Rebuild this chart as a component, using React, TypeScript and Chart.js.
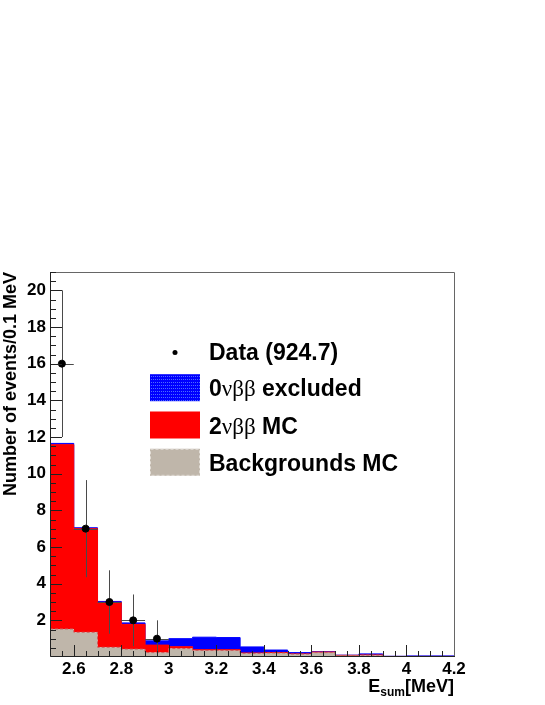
import React, { useEffect, useRef } from "react";
import { Chart, registerables } from "chart.js";

Chart.register(...registerables);

// ---- data ----
const binEdges = [2.5, 2.6, 2.7, 2.8, 2.9, 3.0, 3.1, 3.2, 3.3, 3.4, 3.5, 3.6, 3.7, 3.8, 3.9, 4.0, 4.1, 4.2];
const backgroundMC = [1.53, 1.35, 0.53, 0.43, 0.24, 0.46, 0.36, 0.36, 0.2, 0.22, 0.16, 0.24, 0.08, 0.1, 0.02, 0.02, 0.02];
const twoNuMC = [10.05, 5.65, 2.45, 1.35, 0.41, 0.1, 0.04, 0.04, 0.02, 0.02, 0.01, 0.03, 0.01, 0.01, 0.01, 0.01, 0.01];
const zeroNuExcluded = [0.07, 0.05, 0.05, 0.08, 0.23, 0.44, 0.68, 0.66, 0.33, 0.14, 0.07, 0.02, 0.01, 0.06, 0.01, 0.03, 0.03];

const dataCenters = [2.55, 2.65, 2.75, 2.85, 2.95];
const dataCounts = [16, 7, 3, 2, 1];
const dataErrors = [4, 2.65, 1.73, 1.41, 1];
const dataHalfWidths = [0.05, 0.05, 0.05, 0.05, 0.05];

const xTickLabels = ["2.6", "2.8", "3", "3.2", "3.4", "3.6", "3.8", "4", "4.2"];
const yTickLabels = ["2", "4", "6", "8", "10", "12", "14", "16", "18", "20"];

const legendLabels = ["Data (924.7)", "0νββ excluded", "2νββ MC", "Backgrounds MC"];

const SANS = "'Liberation Sans', Arial, Helvetica, sans-serif";
const SERIF = "'Liberation Serif', 'DejaVu Serif', serif";

const COL_BLUE = "#0000ff";
const COL_RED = "#ff0000";
const COL_GRAY = "#bfb6aa";

type Seg = { text: string; font: string; dy?: number };

function drawSegs(ctx: CanvasRenderingContext2D, segs: Seg[], x: number, y: number, align: "left" | "right") {
  let total = 0;
  const widths = segs.map((s) => {
    ctx.font = s.font;
    const w = ctx.measureText(s.text).width;
    total += w;
    return w;
  });
  let cx = align === "left" ? x : x - total;
  ctx.textAlign = "left";
  ctx.textBaseline = "alphabetic";
  segs.forEach((s, i) => {
    ctx.font = s.font;
    ctx.fillText(s.text, cx, y + (s.dy || 0));
    cx += widths[i];
  });
}

function splitGreek(label: string, size: number): Seg[] {
  const segs: Seg[] = [];
  const re = /[νβ]+/g;
  let last = 0;
  let m: RegExpExecArray | null;
  while ((m = re.exec(label))) {
    if (m.index > last) segs.push({ text: label.slice(last, m.index), font: `bold ${size}px ${SANS}` });
    segs.push({ text: m[0], font: `${size}px ${SERIF}` });
    last = m.index + m[0].length;
  }
  if (last < label.length) segs.push({ text: label.slice(last), font: `bold ${size}px ${SANS}` });
  return segs;
}

const decorPlugin = {
  id: "decor",
  beforeDatasetDraw(chart: any, args: any) {
    if (args.index !== 0) return;
    const ctx: CanvasRenderingContext2D = chart.ctx;
    const xs = chart.scales.x;
    const ys = chart.scales.y;
    ctx.save();
    ctx.strokeStyle = "#4a4a4a";
    ctx.lineWidth = 1;
    dataCenters.forEach((c, i) => {
      const px = Math.round(xs.getPixelForValue(c)) + 0.5;
      const py = Math.round(ys.getPixelForValue(dataCounts[i])) + 0.5;
      const y1 = ys.getPixelForValue(dataCounts[i] + dataErrors[i]);
      const y2 = ys.getPixelForValue(dataCounts[i] - dataErrors[i]);
      const x1 = xs.getPixelForValue(c - dataHalfWidths[i]);
      const x2 = xs.getPixelForValue(c + dataHalfWidths[i]);
      ctx.beginPath();
      ctx.moveTo(px, y1);
      ctx.lineTo(px, y2);
      ctx.moveTo(x1, py);
      ctx.lineTo(x2, py);
      ctx.stroke();
    });
    ctx.restore();
  },
  afterDraw(chart: any) {
    const ctx: CanvasRenderingContext2D = chart.ctx;
    const xs = chart.scales.x;
    const ys = chart.scales.y;
    const a = chart.chartArea;
    ctx.save();
    // frame
    ctx.lineWidth = 1;
    ctx.strokeStyle = "#666";
    ctx.beginPath();
    ctx.moveTo(a.left + 0.5, a.top + 0.5);
    ctx.lineTo(a.right + 0.5, a.top + 0.5);
    ctx.lineTo(a.right + 0.5, a.bottom);
    ctx.stroke();
    ctx.strokeStyle = "#222";
    ctx.beginPath();
    ctx.moveTo(a.left + 0.5, a.top);
    ctx.lineTo(a.left + 0.5, a.bottom - 0.5);
    ctx.lineTo(a.right + 1, a.bottom - 0.5);
    ctx.stroke();

    // y ticks: minor every 0.5, major every 2
    ctx.strokeStyle = "#222";
    ctx.beginPath();
    for (let k = 1; k <= 42; k++) {
      const v = k * 0.5;
      if (v > ys.max) break;
      const py = Math.round(ys.getPixelForValue(v)) + 0.5;
      const len = k % 4 === 0 ? 12 : 6;
      ctx.moveTo(a.left, py);
      ctx.lineTo(a.left + len, py);
    }
    // x ticks: minor every 0.05, major every 0.2 (from 2.6)
    for (let k = 1; k < 34; k++) {
      const v = 2.5 + k * 0.05;
      const px = Math.round(xs.getPixelForValue(v)) + 0.5;
      const len = (k - 2) % 4 === 0 ? 12 : 6;
      ctx.moveTo(px, a.bottom);
      ctx.lineTo(px, a.bottom - len);
    }
    ctx.stroke();

    // legend
    ctx.fillStyle = "#000";
    const lx = 150, lw = 50, tx = 209;
    const rowCenters = [351.5, 387.7, 425, 462.3];
    // data marker
    ctx.beginPath();
    ctx.arc(lx + 25, rowCenters[0] + 1, 2.5, 0, Math.PI * 2);
    ctx.fill();
    // blue patterned box
    const pc = document.createElement("canvas");
    pc.width = 4;
    pc.height = 3;
    const pctx = pc.getContext("2d")!;
    pctx.fillStyle = COL_BLUE;
    pctx.fillRect(0, 0, 4, 3);
    pctx.fillStyle = "#4f6bff";
    pctx.fillRect(1, 1, 1, 1);
    pctx.fillRect(3, 1, 1, 1);
    const pat = ctx.createPattern(pc, "repeat");
    ctx.fillStyle = pat || COL_BLUE;
    ctx.fillRect(lx, rowCenters[1] - 13.5, lw, 27);
    ctx.fillStyle = COL_RED;
    ctx.fillRect(lx, rowCenters[2] - 13.5, lw, 27);
    ctx.fillStyle = COL_GRAY;
    ctx.fillRect(lx, rowCenters[3] - 13.5, lw, 27);
    ctx.strokeStyle = "#e2ddd6";
    ctx.setLineDash([3, 2]);
    ctx.strokeRect(lx + 0.5, rowCenters[3] - 13, lw - 1, 26);
    ctx.setLineDash([]);
    ctx.fillStyle = "#000";
    legendLabels.forEach((lab, i) => {
      drawSegs(ctx, splitGreek(lab, 23), tx, rowCenters[i] + 8.5, "left");
    });

    // x axis title E_sum[MeV]
    drawSegs(
      ctx,
      [
        { text: "E", font: `bold 18px ${SANS}` },
        { text: "sum", font: `bold 12px ${SANS}`, dy: 4 },
        { text: "[MeV]", font: `bold 18px ${SANS}` },
      ],
      a.right,
      692,
      "right"
    );
    ctx.restore();
  },
};

export default function App() {
  const ref = useRef<HTMLCanvasElement>(null);
  useEffect(() => {
    const canvas = ref.current!;
    const stepPoints = (vals: number[]) =>
      binEdges.map((e, i) => ({ x: e, y: vals[Math.min(i, vals.length - 1)] }));
    const near = (v: number, step: number) => Math.abs(v / step - Math.round(v / step)) < 1e-6;
    const chart = new Chart(canvas, {
      type: "line",
      data: {
        datasets: [
          {
            type: "scatter",
            label: legendLabels[0],
            data: dataCenters.map((c, i) => ({ x: c, y: dataCounts[i] })),
            backgroundColor: "#000",
            borderColor: "#000",
            pointRadius: 3.5,
            pointHoverRadius: 3.5,
            stack: "data",
          } as any,
          {
            label: legendLabels[3],
            data: stepPoints(backgroundMC),
            stepped: true,
            fill: "origin",
            backgroundColor: COL_GRAY,
            borderColor: "#c85a5a",
            borderWidth: 1,
            borderDash: [3, 2],
            pointRadius: 0,
            stack: "mc",
          },
          {
            label: legendLabels[2],
            data: stepPoints(twoNuMC),
            stepped: true,
            fill: "-1",
            backgroundColor: COL_RED,
            borderColor: COL_RED,
            borderWidth: 1,
            pointRadius: 0,
            stack: "mc",
          },
          {
            label: legendLabels[1],
            data: stepPoints(zeroNuExcluded),
            stepped: true,
            fill: "-1",
            backgroundColor: COL_BLUE,
            borderColor: COL_BLUE,
            borderWidth: 1,
            pointRadius: 0,
            stack: "mc",
          },
        ],
      },
      options: {
        responsive: false,
        animation: false,
        events: [],
        layout: { padding: { top: 272, right: 91, bottom: 0, left: 0 } },
        plugins: {
          legend: { display: false },
          tooltip: { enabled: false },
        },
        scales: {
          x: {
            type: "linear",
            min: 2.5,
            max: 4.2,
            grid: { display: false, drawTicks: false },
            border: { display: false },
            ticks: {
              stepSize: 0.2,
              includeBounds: false,
              autoSkip: false,
              maxRotation: 0,
              padding: 2,
              color: "#000",
              font: { family: SANS, size: 17, weight: "bold" },
              callback: (v: any) => {
                const val = Number(v);
                if (!near(val, 0.2) || val < 2.55) return "";
                const idx = Math.round((val - 2.6) / 0.2);
                return xTickLabels[idx] ?? "";
              },
            },
            afterFit: (s: any) => {
              s.height = 48;
              s.paddingLeft = 0;
              s.paddingRight = 0;
              s.paddingTop = 0;
              s.paddingBottom = 0;
            },
          },
          y: {
            type: "linear",
            stacked: true,
            min: 0,
            max: 21,
            grid: { display: false, drawTicks: false },
            border: { display: false },
            ticks: {
              stepSize: 2,
              includeBounds: false,
              padding: 4,
              color: "#000",
              font: { family: SANS, size: 17, weight: "bold" },
              callback: (v: any) => {
                const val = Number(v);
                if (val <= 0 || !near(val, 2)) return "";
                return yTickLabels[Math.round(val / 2) - 1] ?? "";
              },
            },
            title: {
              display: true,
              text: "Number of events/0.1 MeV",
              align: "end",
              padding: 0,
              color: "#000",
              font: { family: SANS, size: 18, weight: "bold" },
            },
            afterFit: (s: any) => {
              s.width = 50;
              s.paddingLeft = 0;
              s.paddingRight = 0;
              s.paddingTop = 0;
              s.paddingBottom = 0;
            },
          },
        },
      } as any,
      plugins: [decorPlugin as any],
    });
    return () => chart.destroy();
  }, []);
  return (
    <div style={{ position: "absolute", left: 0, top: 0, width: 545, height: 705, background: "#fff" }}>
      <canvas ref={ref} width={545} height={705} style={{ display: "block" }} />
    </div>
  );
}
